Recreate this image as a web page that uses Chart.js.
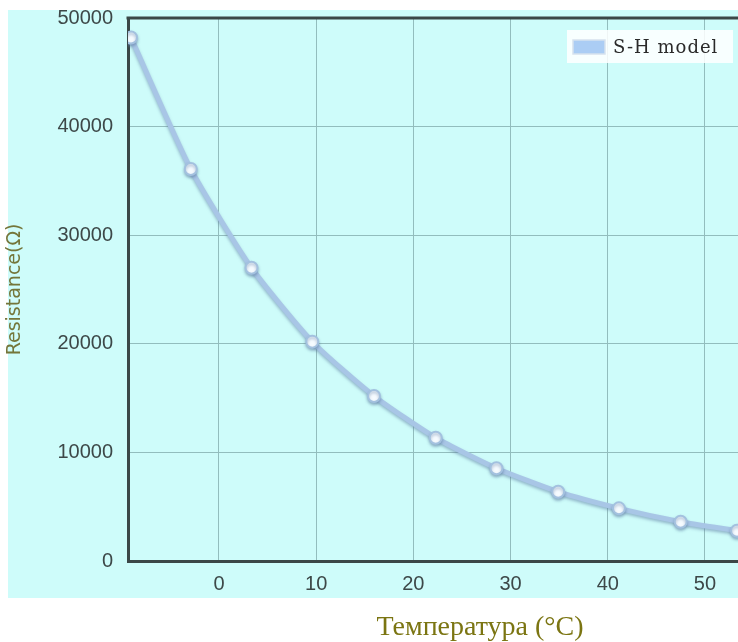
<!DOCTYPE html>
<html>
<head>
<meta charset="utf-8">
<script src="https://cdn.jsdelivr.net/npm/chart.js@4.4.0/dist/chart.umd.min.js"></script>
<style>
  html, body { margin: 0; padding: 0; background: #ffffff; overflow: hidden; }
  #wrap { width: 738px; height: 642px; }
</style>
</head>
<body>
<div id="wrap"><canvas id="chart" width="738" height="642"></canvas></div>
<script>
// temperature (°C) and modelled resistance (Ω)
const temps = [-9.05, -2.9, 3.35, 9.6, 15.95, 22.3, 28.55, 34.9, 41.15, 47.5, 53.3];
const resistance = [48200, 36100, 27000, 20200, 15200, 11350, 8540, 6380, 4850, 3620, 2790];
const seriesName = "S-H model";
const xTitle = "Температура (°C)";
const yTitle = "Resistance(Ω)";

const frameColor = "#3b4747";
const gridColor = "#92bdbd";
const tickColor = "#3d4848";

// pale cyan panel behind the plot
const panelPlugin = {
    id: "panel",
    beforeDraw(chart) {
        const ctx = chart.ctx;
        ctx.save();
        ctx.fillStyle = "#cefcfa";
        ctx.fillRect(8, 10, 730, 588);
        ctx.restore();
    },
    beforeDatasetsDraw(chart) {
        // top edge of the frame
        const a = chart.chartArea;
        const ctx = chart.ctx;
        ctx.save();
        ctx.strokeStyle = frameColor;
        ctx.lineWidth = 3;
        ctx.beginPath();
        ctx.moveTo(a.left - 1.5, a.top);
        ctx.lineTo(a.right, a.top);
        ctx.stroke();
        ctx.restore();
    },
    beforeDatasetDraw(chart) {
        const ctx = chart.ctx;
        ctx.save();
        ctx.shadowColor = "rgba(90, 120, 160, 0.5)";
        ctx.shadowBlur = 3;
        ctx.shadowOffsetY = 2;
    },
    afterDatasetDraw(chart) {
        chart.ctx.restore();
    },
    afterDraw(chart) {
        const ctx = chart.ctx;
        const ds = chart.data.datasets[0];
        ctx.save();
        // legend box
        ctx.fillStyle = "rgba(255, 255, 255, 0.85)";
        ctx.fillRect(567, 30, 166, 33);
        ctx.fillStyle = ds.backgroundColor;
        ctx.fillRect(573, 40, 32, 14);
        ctx.strokeStyle = "#d6e2ee";
        ctx.lineWidth = 1.5;
        ctx.strokeRect(573, 40, 32, 14);
        ctx.fillStyle = "#2a2a2a";
        ctx.font = "18px 'DejaVu Serif'";
        ctx.letterSpacing = "1px";
        ctx.textBaseline = "middle";
        ctx.textAlign = "left";
        ctx.fillText(ds.label, 613, 48);
        // x axis title
        ctx.letterSpacing = "0px";
        ctx.fillStyle = "#7b7512";
        ctx.font = "28px 'Liberation Serif'";
        ctx.textAlign = "center";
        ctx.fillText(xTitle, 480, 628);
        ctx.restore();
    }
};

const ctx = document.getElementById("chart").getContext("2d");
new Chart(ctx, {
    type: "line",
    data: {
        datasets: [{
            label: seriesName,
            data: temps.map((t, i) => ({ x: t, y: resistance[i] })),
            borderColor: "#a8c6e6",
            backgroundColor: "#abcdf4",
            borderWidth: 5,
            tension: 0.2,
            pointRadius: 6,
            pointBackgroundColor: "#f6fbff",
            pointBorderColor: "#a3c1df",
            pointBorderWidth: 2
        }]
    },
    options: {
        responsive: false,
        animation: false,
        devicePixelRatio: 1,
        layout: { autoPadding: false, padding: { top: 18, left: 0, right: 0, bottom: 0 } },
        plugins: {
            legend: { display: false },
            tooltip: { enabled: false }
        },
        scales: {
            x: {
                type: "linear",
                min: -9.36,
                max: 53.4,
                afterFit: (scale) => { scale.height = 81; },
                grid: { color: gridColor, lineWidth: 1, drawTicks: false },
                border: { display: true, color: frameColor, width: 3 },
                ticks: {
                    stepSize: 10,
                    includeBounds: false,
                    padding: 11,
                    color: tickColor,
                    font: { family: "'Liberation Sans'", size: 20 }
                }
            },
            y: {
                type: "linear",
                min: 0,
                max: 50000,
                afterFit: (scale) => {
                    scale.width = 128;
                    scale.paddingTop = 8;
                    scale.paddingBottom = 8;
                },
                grid: { color: gridColor, lineWidth: 1, drawTicks: false },
                border: { display: true, color: frameColor, width: 3 },
                ticks: {
                    stepSize: 10000,
                    padding: 15,
                    color: tickColor,
                    font: { family: "'Liberation Sans'", size: 20 },
                    callback: (v) => String(v)
                },
                title: {
                    display: true,
                    text: yTitle,
                    color: "#74763a",
                    padding: { top: 4, bottom: 4 },
                    font: { family: "'DejaVu Sans'", size: 19 }
                }
            }
        }
    },
    plugins: [panelPlugin]
});
</script>
</body>
</html>
